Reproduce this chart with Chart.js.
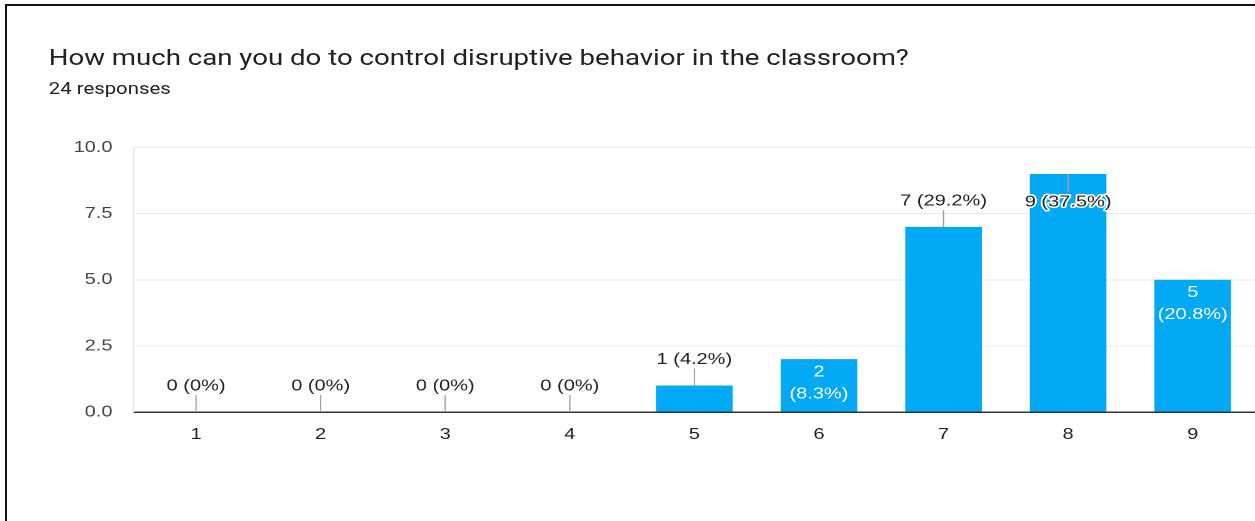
<!DOCTYPE html>
<html>
<head>
<meta charset="utf-8">
<script src="https://cdn.jsdelivr.net/npm/chart.js@4/dist/chart.umd.min.js"></script>
<style>
    html, body { margin: 0; padding: 0; background: #fff; overflow: hidden; width: 1255px; height: 521px; }
    .frame { position: absolute; left: 5px; top: 4px; width: 1400px; height: 600px; border: 2px solid #111; box-sizing: border-box; }
    .stage { position: absolute; left: 0; top: 0; width: 1004px; height: 521px; transform: scaleX(1.25); transform-origin: 0 0; }
    .title { position: absolute; left: 39px; top: 44px; font-family: Roboto, sans-serif; font-size: 22.1px; line-height: 26px; color: #202124; white-space: nowrap; }
    .sub { position: absolute; left: 39px; top: 79px; font-family: Roboto, sans-serif; font-size: 16.3px; line-height: 20px; color: #202124; white-space: nowrap; }
    #surveyChart { position: absolute; left: 0; top: 121px; }
</style>
</head>
<body>
<div class="frame"></div>
<div class="stage">
    <div class="title">How much can you do to control disruptive behavior in the classroom?</div>
    <div class="sub">24 responses</div>
    <canvas id="surveyChart" width="1004" height="349"></canvas>
</div>
<script>
// Answers on the 1-9 scale and how many people picked each
const categories = ['1', '2', '3', '4', '5', '6', '7', '8', '9'];
const responses = [0, 0, 0, 0, 1, 2, 7, 9, 5];
const yTicks = [0, 2.5, 5, 7.5, 10];

const total = responses.reduce((sum, v) => sum + v, 0);

function percentText(v) {
    const p = Math.round(v / total * 1000) / 10;
    return p + '%';
}

// Value labels: above the bar with a short leader line, or white text inside the bar
const barLabels = {
    id: 'barLabels',
    afterDatasetsDraw(chart, args, opts) {
        const ctx = chart.ctx;
        const meta = chart.getDatasetMeta(0);
        const area = chart.chartArea;
        ctx.save();
        ctx.font = '16px "Liberation Sans", Arial, sans-serif';
        ctx.textAlign = 'center';
        ctx.textBaseline = 'middle';
        meta.data.forEach((bar, i) => {
            const v = responses[i];
            const top = bar.y;
            if (opts.inside.includes(i)) {
                ctx.fillStyle = '#ffffff';
                ctx.fillText(String(v), bar.x, top + 13);
                ctx.fillText('(' + percentText(v) + ')', bar.x, top + 35);
                return;
            }
            const text = v + ' (' + percentText(v) + ')';
            let labelY = top - 26;
            let lineEnd = top - 17;
            if (labelY < area.top + 10) {
                // no room above: flip the label down into the bar
                labelY = top + 28;
                lineEnd = top + 18;
            }
            ctx.strokeStyle = '#9e9e9e';
            ctx.lineWidth = 1;
            ctx.beginPath();
            ctx.moveTo(bar.x, top);
            ctx.lineTo(bar.x, lineEnd);
            ctx.stroke();
            ctx.lineJoin = 'round';
            ctx.strokeStyle = '#ffffff';
            ctx.lineWidth = 3;
            ctx.strokeText(text, bar.x, labelY);
            ctx.fillStyle = '#222222';
            ctx.fillText(text, bar.x, labelY);
        });
        ctx.restore();
    }
};

const ctx = document.getElementById('surveyChart').getContext('2d');
new Chart(ctx, {
    type: 'bar',
    data: {
        labels: categories,
        datasets: [{
            data: responses,
            backgroundColor: '#03a9f4',
            barPercentage: 0.615,
            categoryPercentage: 1
        }]
    },
    options: {
        responsive: false,
        animation: false,
        devicePixelRatio: 2,
        layout: { padding: { top: 8, left: 0, right: 0, bottom: 0 } },
        plugins: {
            legend: { display: false },
            tooltip: { enabled: false },
            barLabels: { inside: [5, 8] }
        },
        scales: {
            x: {
                grid: { display: false, drawTicks: false },
                border: { color: '#333333', width: 1.5 },
                ticks: {
                    color: '#222222',
                    padding: 13,
                    font: { family: '"Liberation Sans", Arial, sans-serif', size: 16 }
                },
                afterFit: scale => { scale.height = 58; }
            },
            y: {
                min: 0,
                max: 10,
                grid: { color: '#ebebeb', drawTicks: false },
                border: { color: '#e6e6e6', width: 1 },
                ticks: {
                    color: '#444444',
                    padding: 17,
                    font: { family: '"Liberation Sans", Arial, sans-serif', size: 16 },
                    callback: v => Number(v).toFixed(1)
                },
                afterBuildTicks: scale => { scale.ticks = yTicks.map(v => ({ value: v })); },
                afterFit: scale => { scale.width = 107; }
            }
        }
    },
    plugins: [barLabels]
});
</script>
</body>
</html>
